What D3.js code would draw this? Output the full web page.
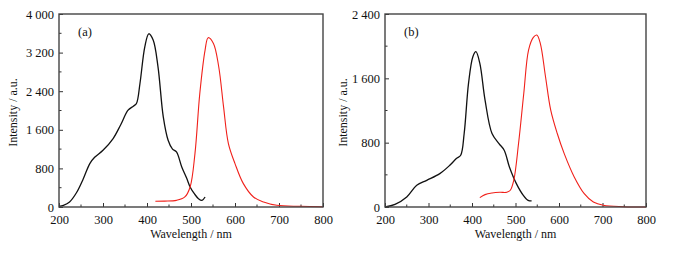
<!DOCTYPE html>
<html>
<head>
<meta charset="utf-8">
<script src="https://cdn.jsdelivr.net/npm/d3@7"></script>
<style>
  body { margin: 0; background: #fff; }
  svg { display: block; font-family: "Liberation Serif", "DejaVu Serif", serif; }
</style>
</head>
<body>
<svg id="chart" width="688" height="257"></svg>
<script>
// wavelength (nm) / intensity (a.u.)
const aBlackWl = [200, 210, 224, 240, 255, 270, 281, 300, 323, 340, 357, 369, 376, 384, 395, 404, 414, 425, 437, 448, 458, 467, 479, 490, 498, 508, 517, 525, 532];
const aBlackI  = [15, 35, 104, 300, 580, 900, 1030, 1176, 1419, 1700, 2007, 2090, 2145, 2560, 3320, 3590, 3460, 2906, 1868, 1384, 1200, 1142, 830, 600, 415, 270, 173, 138, 208];
const aRedWl = [419, 440, 467, 486, 498, 509, 520, 532, 539, 551, 563, 574, 585, 600, 619, 642, 665, 695, 748, 800];
const aRedI  = [118, 122, 138, 208, 415, 1107, 2353, 3253, 3509, 3391, 2907, 2076, 1315, 900, 484, 208, 104, 35, 14, 5];

const bBlackWl = [200, 223, 250, 273, 296, 326, 349, 364, 374, 382, 392, 402, 409, 418, 430, 446, 462, 474, 486, 502, 518, 529, 537];
const bBlackI  = [0, 33, 125, 270, 332, 415, 519, 602, 644, 914, 1537, 1869, 1931, 1786, 1329, 914, 789, 706, 498, 291, 145, 83, 75];
const bRedWl = [418, 430, 446, 464, 480, 488, 496, 507, 519, 530, 541, 549, 557, 569, 581, 596, 612, 635, 658, 679, 702, 748, 800];
const bRedI  = [116, 154, 174, 183, 183, 208, 332, 789, 1412, 1952, 2110, 2139, 2035, 1620, 1204, 914, 664, 374, 166, 62, 21, 4, 0];

const xTicks = [200, 300, 400, 500, 600, 700, 800];
const aYTicks = [0, 800, 1600, 2400, 3200, 4000];
const bYTicks = [0, 800, 1600, 2400];

const panels = [
  { label: '(a)', left: 59, right: 323, yMax: 4000, yTicks: aYTicks,
    black: aBlackWl.map((w, i) => [w, aBlackI[i]]), red: aRedWl.map((w, i) => [w, aRedI[i]]), titleX: 13 },
  { label: '(b)', left: 385, right: 646, yMax: 2400, yTicks: bYTicks,
    black: bBlackWl.map((w, i) => [w, bBlackI[i]]), red: bRedWl.map((w, i) => [w, bRedI[i]]), titleX: 343 }
];

const svg = d3.select('#chart');
const plotTop = 14, plotBottom = 207;
const fmt = v => v >= 1000 ? d3.format(',')(v).replace(',', ' ') : String(v);

panels.forEach(p => {
  const x = d3.scaleLinear().domain([200, 800]).range([p.left, p.right]);
  const y = d3.scaleLinear().domain([0, p.yMax]).range([plotBottom, plotTop]);
  const g = svg.append('g');

  // minor ticks (every 50 nm / 400 a.u.)
  const xMinor = d3.range(250, 800, 100);
  const yMinor = d3.range(400, p.yMax, 800);

  const xAxis = d3.axisBottom(x).tickValues(xTicks).tickSizeInner(-4).tickSizeOuter(0).tickPadding(8).tickFormat(d3.format('d'));
  const xg = g.append('g').attr('transform', `translate(0,${plotBottom})`).call(xAxis)
    .attr('font-family', null).attr('font-size', null);
  xg.select('.domain').remove();
  xg.selectAll('.tick line').attr('stroke', '#333');
  xg.selectAll('.tick text').attr('fill', '#111').style('font-size', '12.5px');
  g.selectAll('.xminor').data(xMinor).enter().append('line')
    .attr('x1', d => x(d)).attr('x2', d => x(d)).attr('y1', plotBottom).attr('y2', plotBottom - 2.5)
    .attr('stroke', '#333');

  const yAxis = d3.axisLeft(y).tickValues(p.yTicks).tickSizeInner(-4).tickSizeOuter(0).tickPadding(5).tickFormat(fmt);
  const yg = g.append('g').attr('transform', `translate(${p.left},0)`).call(yAxis)
    .attr('font-family', null).attr('font-size', null);
  yg.select('.domain').remove();
  yg.selectAll('.tick line').attr('stroke', '#333');
  yg.selectAll('.tick text').attr('fill', '#111').style('font-size', '12.5px');
  g.selectAll('.yminor').data(yMinor).enter().append('line')
    .attr('x1', p.left).attr('x2', p.left + 2.5).attr('y1', d => y(d)).attr('y2', d => y(d))
    .attr('stroke', '#333');

  const line = d3.line().x(d => x(d[0])).y(d => y(d[1])).curve(d3.curveCatmullRom.alpha(0.5));
  g.append('path').datum(p.black).attr('d', line).attr('fill', 'none').attr('stroke', '#111').attr('stroke-width', 1.3);
  g.append('path').datum(p.red).attr('d', line).attr('fill', 'none').attr('stroke', '#f0201a').attr('stroke-width', 1.1);

  // frame
  g.append('rect').attr('x', p.left).attr('y', plotTop).attr('width', p.right - p.left).attr('height', plotBottom - plotTop)
    .attr('fill', 'none').attr('stroke', '#444').attr('stroke-width', 1.4);

  g.append('text').attr('x', p.left + 19).attr('y', 36).attr('fill', '#111').style('font-size', '12.5px').text(p.label);

  g.append('text').attr('x', (p.left + p.right) / 2).attr('y', 238).attr('text-anchor', 'middle')
    .attr('fill', '#111').style('font-size', '12px').text('Wavelength / nm');

  g.append('text').attr('transform', `translate(${p.titleX},${(plotTop + plotBottom) / 2 + 2}) rotate(-90)`)
    .attr('text-anchor', 'middle').attr('dy', '0.35em').attr('fill', '#111').style('font-size', '12px')
    .text('Intensity / a.u.');
});
</script>
</body>
</html>
